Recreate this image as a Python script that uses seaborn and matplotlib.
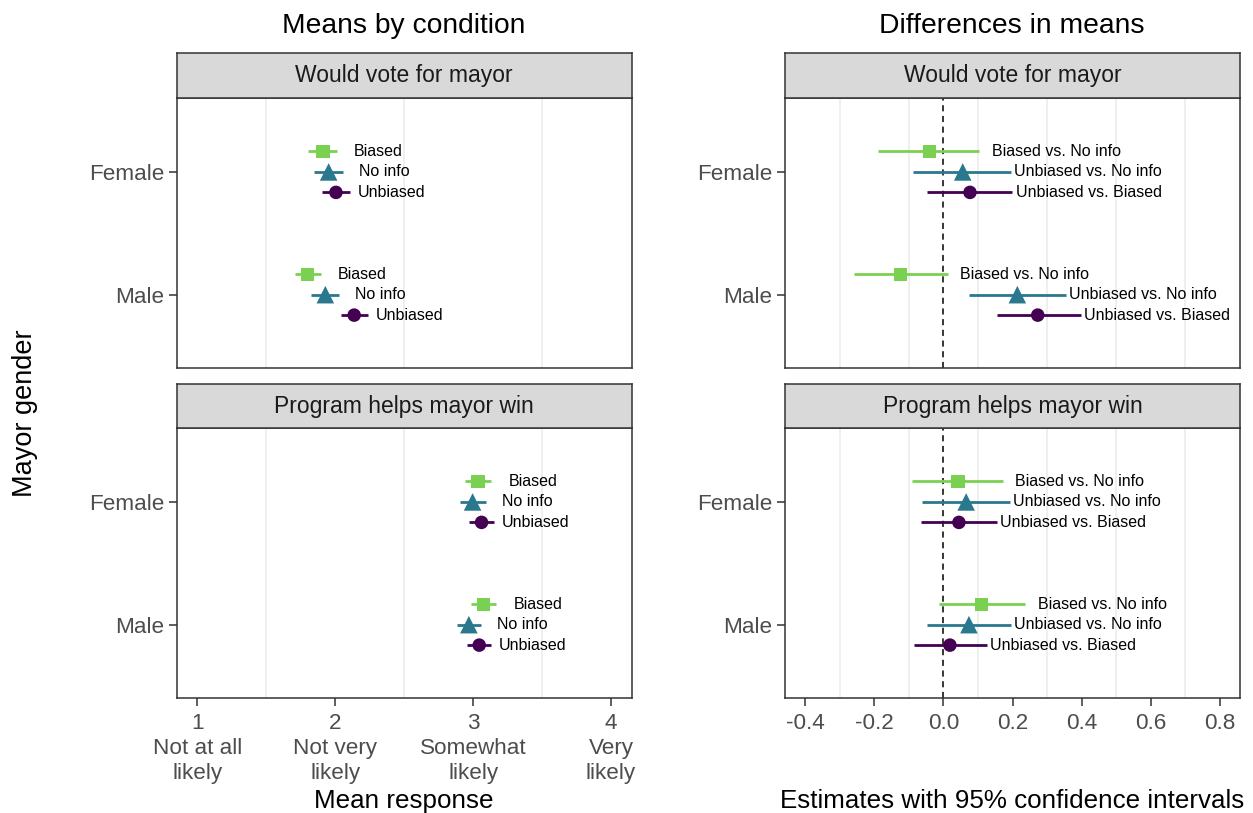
import matplotlib
matplotlib.use("Agg")
import matplotlib.pyplot as plt
import seaborn as sns
import pandas as pd
from itertools import product

sns.set_theme(style="white")
plt.rcParams['font.family'] = ['Liberation Sans', 'DejaVu Sans']

# ---------------- data ----------------
outcomes = ["Would vote for mayor", "Program helps mayor win"]
genders = ["Female", "Male"]
conditions = ["Biased", "No info", "Unbiased"]
contrasts = ["Biased vs. No info", "Unbiased vs. No info", "Unbiased vs. Biased"]

# order: outcome x gender x condition
mean_est = [1.911, 1.952, 2.005, 1.800, 1.928, 2.137,
            3.036, 2.996, 3.061, 3.077, 2.969, 3.044]
mean_lo = [1.803, 1.848, 1.906, 1.706, 1.826, 2.040,
           2.942, 2.904, 2.971, 2.983, 2.880, 2.952]
mean_hi = [2.012, 2.055, 2.108, 1.896, 2.029, 2.240,
           3.133, 3.092, 3.150, 3.169, 3.056, 3.128]

# order: outcome x gender x contrast
diff_est = [-0.041, 0.056, 0.077, -0.123, 0.214, 0.273,
            0.042, 0.066, 0.045, 0.111, 0.074, 0.019]
diff_lo = [-0.188, -0.087, -0.046, -0.258, 0.074, 0.154,
           -0.091, -0.062, -0.064, -0.013, -0.046, -0.085]
diff_hi = [0.104, 0.196, 0.199, 0.013, 0.354, 0.397,
           0.173, 0.193, 0.154, 0.237, 0.196, 0.125]

x_ticks_left = [1, 2, 3, 4]
x_ticklabels_left = ["1\nNot at all\nlikely", "2\nNot very\nlikely",
                     "3\nSomewhat\nlikely", "4\nVery\nlikely"]
x_ticks_right = [-0.4, -0.2, 0.0, 0.2, 0.4, 0.6, 0.8]
x_ticklabels_right = ["-0.4", "-0.2", "0.0", "0.2", "0.4", "0.6", "0.8"]

# ---------------- styling ----------------
colors = ["#7AD151", "#2A788E", "#440154"]
markers = ["s", "^", "o"]
msizes = [92, 160, 95]
offsets = [1 / 6, 0.0, -1 / 6]
gender_pos = {"Female": 2, "Male": 1}

rows = list(product(outcomes, genders, range(3)))
means = pd.DataFrame({
    "outcome": [r[0] for r in rows],
    "gender": [r[1] for r in rows],
    "group": [conditions[r[2]] for r in rows],
    "est": mean_est, "lo": mean_lo, "hi": mean_hi,
})
diffs = pd.DataFrame({
    "outcome": [r[0] for r in rows],
    "gender": [r[1] for r in rows],
    "group": [contrasts[r[2]] for r in rows],
    "est": diff_est, "lo": diff_lo, "hi": diff_hi,
})
for df, levels in ((means, conditions), (diffs, contrasts)):
    idx = df["group"].map({g: i for i, g in enumerate(levels)})
    df["ypos"] = df["gender"].map(gender_pos) + idx.map(lambda i: offsets[i])

W, H = 1253, 813
fig = plt.figure(figsize=(W / 100, H / 100), dpi=100)


def px_axes(x0, y0, x1, y1):
    return fig.add_axes([x0 / W, 1 - y1 / H, (x1 - x0) / W, (y1 - y0) / H])


cols = [(176.7, 631.7), (785.0, 1240.0)]
panel_rows = [(98.3, 368.3), (428.3, 698.3)]
strip_rows = [(53.3, 98.3), (384.0, 428.3)]

TICK_COL = "#4D4D4D"
LINE_COL = "#333333"

for ci, (data, levels) in enumerate(((means, conditions), (diffs, contrasts))):
    x0, x1 = cols[ci]
    for ri, outcome in enumerate(outcomes):
        y0, y1 = panel_rows[ri]
        ax = px_axes(x0, y0, x1, y1)
        sub = data[data["outcome"] == outcome]

        if ci == 1:
            ax.axvline(0, color="black", ls=(0, (4, 3)), lw=1.1, zorder=1.5)

        for gi, g in enumerate(levels):
            part = sub[sub["group"] == g]
            ax.hlines(part["ypos"], part["lo"], part["hi"], colors=colors[gi],
                      lw=2.0, zorder=2)
        sns.scatterplot(data=sub, x="est", y="ypos", hue="group", style="group",
                        size="group", hue_order=levels, style_order=levels,
                        size_order=levels,
                        palette=dict(zip(levels, colors)),
                        markers=dict(zip(levels, markers)),
                        sizes=dict(zip(levels, msizes)),
                        linewidth=0, legend=False, ax=ax, zorder=3)
        lab_off = 0.30 if ci == 0 else 0.222
        for _, r in sub.iterrows():
            ax.text(r["hi"] + lab_off, r["ypos"], r["group"], ha="center",
                    va="center", fontsize=11.5, color="black", zorder=4)

        ax.set_ylim(0.4, 2.6)
        ax.set_yticks([1, 2])
        ax.set_yticklabels(["Male", "Female"])
        if ci == 0:
            ax.set_xlim(0.85, 4.15)
            ax.set_xticks(x_ticks_left)
            ax.set_xticklabels(x_ticklabels_left, multialignment="center",
                               linespacing=1.25)
            ax.set_xticks([1.5, 2.5, 3.5], minor=True)
        else:
            ax.set_xlim(-0.458, 0.858)
            ax.set_xticks(x_ticks_right)
            ax.set_xticklabels(x_ticklabels_right)
            ax.set_xticks([-0.3, -0.1, 0.1, 0.3, 0.5, 0.7], minor=True)
        ax.set_xlabel("")
        ax.set_ylabel("")
        ax.grid(False)
        ax.grid(which="minor", axis="x", color="#EBEBEB", lw=1.1)
        ax.set_axisbelow(True)
        ax.tick_params(axis="both", which="major", length=5.5, width=1.1,
                       color=LINE_COL, labelcolor=TICK_COL, labelsize=16.2,
                       pad=3.5)
        ax.tick_params(axis="x", which="major", pad=5)
        ax.tick_params(axis="x", which="minor", length=0)
        ax.tick_params(left=True, bottom=(ri == 1), labelbottom=(ri == 1))
        for sp in ax.spines.values():
            sp.set_color(LINE_COL)
            sp.set_linewidth(1.1)
            sp.set_zorder(5)

        # facet strip
        s0, s1 = strip_rows[ri]
        sax = px_axes(x0, s0, x1, s1)
        sax.set_facecolor("#D9D9D9")
        sax.set_xticks([])
        sax.set_yticks([])
        for sp in sax.spines.values():
            sp.set_color(LINE_COL)
            sp.set_linewidth(1.1)
        sax.text(0.5, 0.5, outcome, ha="center", va="center", fontsize=16.5,
                 color="#1A1A1A", transform=sax.transAxes)

# titles and axis titles
fig.text(404 / W, 1 - 33 / H, "Means by condition", ha="center", va="baseline",
         fontsize=20.3, color="black")
fig.text(1012 / W, 1 - 33 / H, "Differences in means", ha="center",
         va="baseline", fontsize=20.3, color="black")
fig.text(404 / W, 1 - 808 / H, "Mean response", ha="center", va="baseline",
         fontsize=18.7, color="black")
fig.text(1012 / W, 1 - 808 / H, "Estimates with 95% confidence intervals",
         ha="center", va="baseline", fontsize=18.7, color="black")
fig.text(25 / W, 1 - 413 / H, "Mayor gender", ha="center", va="center",
         rotation=90, fontsize=19.5, color="black")

fig.savefig("out.png", dpi=100, facecolor="white")
